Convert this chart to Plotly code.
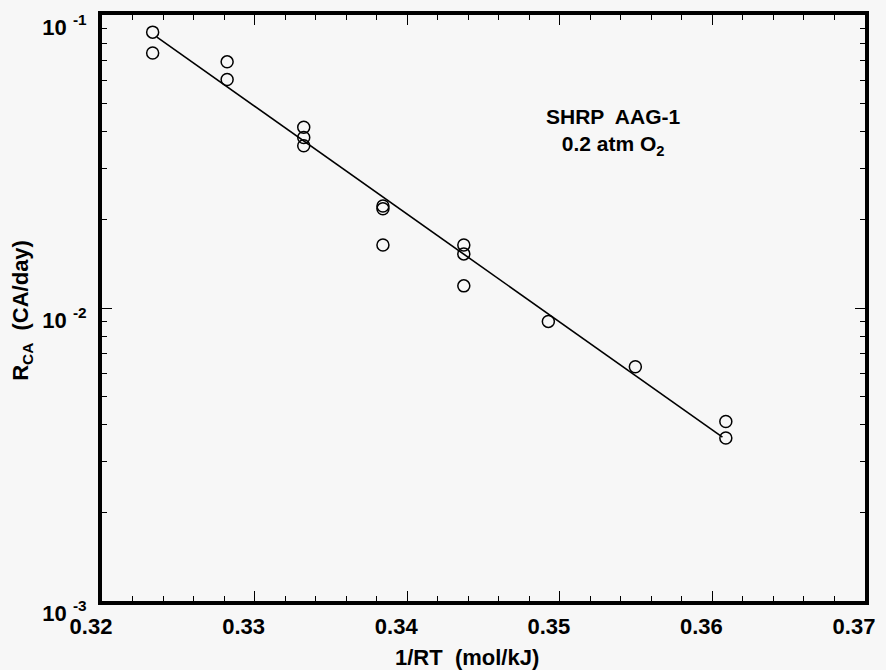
import plotly.graph_objects as go

# Measured oxidation rates vs. inverse temperature
inv_rt = [0.32332, 0.32332,
          0.32820, 0.32820,
          0.33322, 0.33322, 0.33322,
          0.33841, 0.33841, 0.33841,
          0.34371, 0.34371, 0.34371,
          0.34925,
          0.35495,
          0.36088, 0.36088]
rate_ca = [0.0874, 0.0742,
           0.0692, 0.0602,
           0.0414, 0.0382, 0.0358,
           0.0223, 0.0218, 0.0164,
           0.0164, 0.0153, 0.0119,
           0.0090,
           0.0063,
           0.0041, 0.0036]

# Arrhenius fit line endpoints
fit_x = [0.3236, 0.36066]
fit_y = [0.0840, 0.003625]

# Axis ticks
x_major = [0.32, 0.33, 0.34, 0.35, 0.36, 0.37]
x_major_text = ["0.32", "0.33", "0.34", "0.35", "0.36", "0.37"]
y_major = [1e-3, 1e-2, 1e-1]
y_major_text = ["10 <sup>-3</sup>", "10 <sup>-2</sup>", "10 <sup>-1</sup>"]
y_minor = [m * 10.0 ** e for e in (-3, -2) for m in range(2, 10)]

FONT = "Liberation Sans"
BG = "#f7f7f7"

fig = go.Figure()
fig.add_trace(go.Scatter(
    x=fit_x, y=fit_y, mode="lines",
    line=dict(color="black", width=1.6),
    hoverinfo="skip", showlegend=False,
))
fig.add_trace(go.Scatter(
    x=inv_rt, y=rate_ca, mode="markers",
    marker=dict(symbol="circle-open", size=12, color="black",
                line=dict(color="black", width=1.5)),
    showlegend=False,
))

tickfont = dict(family=FONT, size=22, color="black", weight="bold")

fig.update_xaxes(
    range=[0.32, 0.37],
    tickmode="array", tickvals=x_major, ticktext=x_major_text,
    ticks="inside", ticklen=10, tickwidth=1.2, tickcolor="black",
    minor=dict(dtick=0.002, tick0=0.32, ticks="inside", ticklen=5,
               tickwidth=1.2, tickcolor="black"),
    showline=True, linewidth=4, linecolor="black", mirror="ticks",
    showgrid=False, zeroline=False,
    tickfont=tickfont, ticklabelshift=-11, ticklabelstandoff=3,
)
fig.update_yaxes(
    type="log", range=[-3, -1],
    tickmode="array", tickvals=y_major, ticktext=y_major_text,
    ticks="inside", ticklen=10, tickwidth=1.2, tickcolor="black",
    minor=dict(tickmode="array", tickvals=y_minor, ticks="inside",
               ticklen=5, tickwidth=1.2, tickcolor="black"),
    showline=True, linewidth=4, linecolor="black", mirror="ticks",
    showgrid=False, zeroline=False,
    tickfont=tickfont, ticklabelshift=12, ticklabelstandoff=7,
)

fig.add_annotation(
    xref="paper", yref="paper", x=0.671, y=0.80,
    xanchor="center", yanchor="middle",
    text="SHRP  AAG-1<br>0.2 atm O<sub>2</sub>",
    showarrow=False, align="center",
    font=dict(family=FONT, size=21, color="black", weight="bold"),
)
fig.add_annotation(
    xref="paper", yref="paper", x=(467 - 102) / 764, y=-0.097,
    xanchor="center", yanchor="middle",
    text="1/RT  (mol/kJ)", showarrow=False,
    font=dict(family=FONT, size=22, color="black", weight="bold"),
)
fig.add_annotation(
    xref="paper", yref="paper", x=-0.105, y=(601 - 308) / 590,
    xanchor="center", yanchor="middle", textangle=-90,
    text="R<sub>CA</sub>  (CA/day)", showarrow=False,
    font=dict(family=FONT, size=22, color="black", weight="bold"),
)

fig.update_layout(
    width=886, height=670,
    margin=dict(l=102, r=20, t=11, b=69),
    paper_bgcolor=BG, plot_bgcolor=BG,
    showlegend=False,
)

fig.write_html("out.html")
